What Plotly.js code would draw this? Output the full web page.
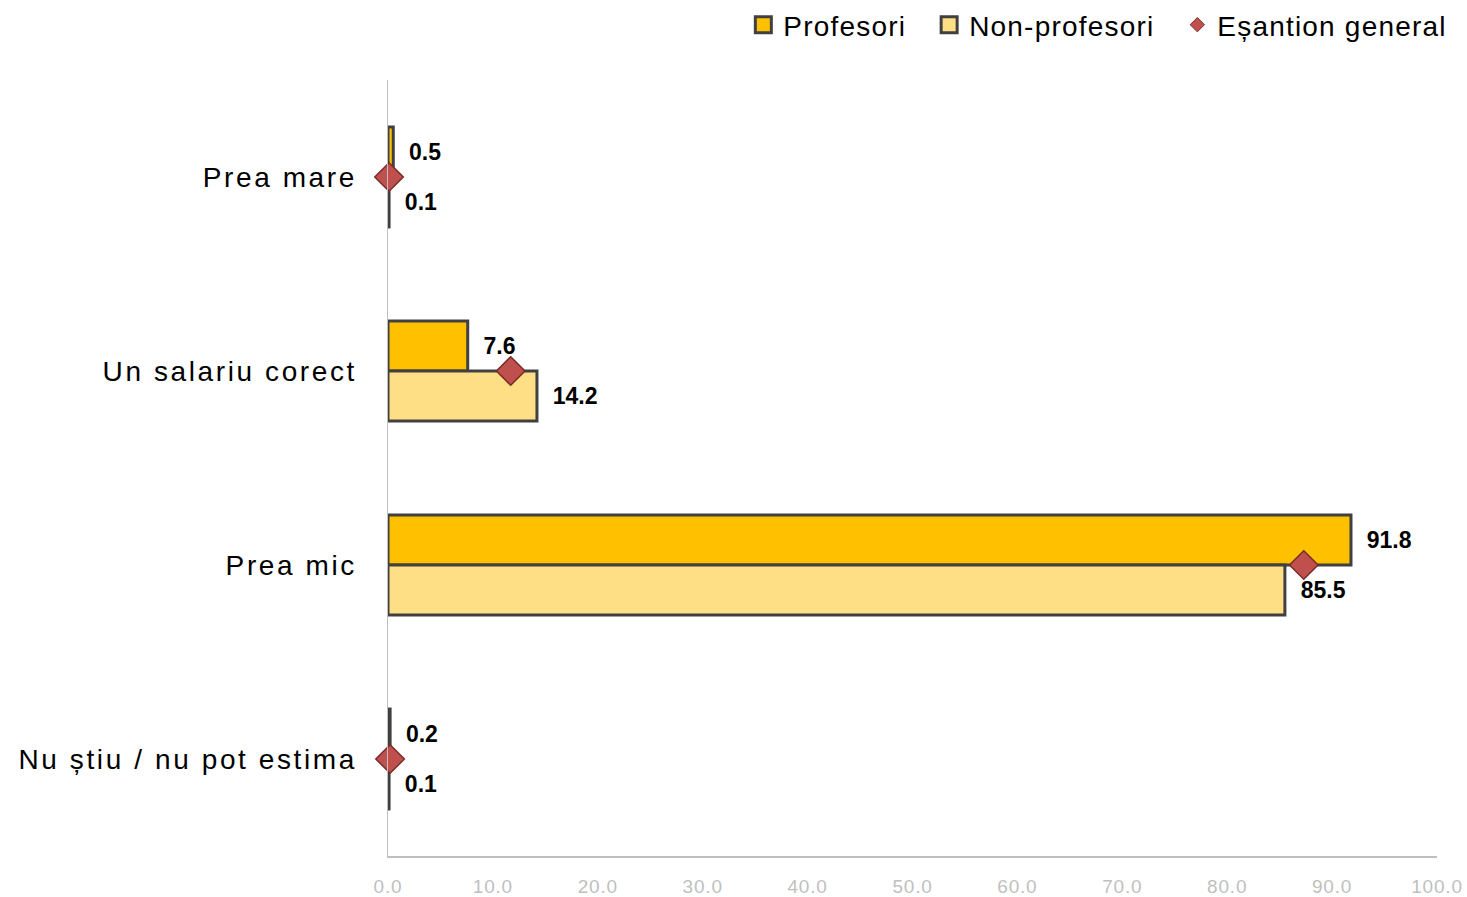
<!DOCTYPE html>
<html>
<head>
<meta charset="utf-8">
<script src="https://cdn.plot.ly/plotly-3.0.1.min.js"></script>
<style>
  html, body { margin: 0; padding: 0; background: #fff; }
  #chart { width: 1467px; height: 897px; }
  .ytick text { letter-spacing: 2.6px; }
  .xtick text { letter-spacing: 0.8px; }
  .legendtext { letter-spacing: 1.2px; }
</style>
</head>
<body>
<div id="chart"></div>
<script>
const categories = ["Prea mare", "Un salariu corect", "Prea mic", "Nu știu / nu pot estima"];
const seriesNames = ["Profesori", "Non-profesori", "Eșantion general"];
const profesori = [0.5, 7.6, 91.8, 0.2];
const nonProfesori = [0.1, 14.2, 85.5, 0.1];
const esantionGeneral = [0.1, 11.7, 87.3, 0.2];
const xTickVals = [0, 10, 20, 30, 40, 50, 60, 70, 80, 90, 100];

const pad = "\u00A0\u00A0";
const gap = "\u00A0\u00A0";
const FONT = "Liberation Sans, Arial, sans-serif";
const labelFont = { family: FONT, size: 23, color: "#000", weight: 700 };
const colProf = "#FFC000", colNon = "#FFDF85", colEs = "#C0504D";

const traces = [
  {
    type: "bar", orientation: "h", name: seriesNames[0], showlegend: false,
    y: categories, x: profesori,
    marker: { color: colProf, line: { color: "#404040", width: 3 } },
    text: profesori.map(v => pad + v.toFixed(1)),
    textposition: "outside", textfont: labelFont,
    constraintext: "none", cliponaxis: false, hoverinfo: "x+name"
  },
  {
    type: "bar", orientation: "h", name: seriesNames[1], showlegend: false,
    y: categories, x: nonProfesori,
    marker: { color: colNon, line: { color: "#404040", width: 3 } },
    text: nonProfesori.map(v => pad + v.toFixed(1)),
    textposition: "outside", textfont: labelFont,
    constraintext: "none", cliponaxis: false, hoverinfo: "x+name"
  },
  {
    type: "scatter", mode: "markers", name: seriesNames[2], showlegend: false,
    y: categories, x: esantionGeneral,
    marker: { symbol: "diamond", size: 22, color: colEs, line: { color: "#772C2A", width: 1.5 } },
    cliponaxis: false, hoverinfo: "x+name"
  },
  // legend entries
  {
    type: "scatter", mode: "markers", name: seriesNames[0] + gap, x: [null], y: [null],
    marker: { symbol: "square", size: 16, color: colProf, line: { color: "#404040", width: 3 } }
  },
  {
    type: "scatter", mode: "markers", name: seriesNames[1] + gap, x: [null], y: [null],
    marker: { symbol: "square", size: 16, color: colNon, line: { color: "#404040", width: 3 } }
  },
  {
    type: "scatter", mode: "markers", name: seriesNames[2], x: [null], y: [null],
    marker: { symbol: "diamond", size: 11, color: colEs, line: { color: "#772C2A", width: 1 } }
  }
];

const layout = {
  width: 1467, height: 897,
  margin: { l: 388, r: 30, t: 80, b: 41 },
  paper_bgcolor: "#fff", plot_bgcolor: "#fff",
  font: { family: FONT, color: "#000" },
  barmode: "group", bargap: 0.485, bargroupgap: 0,
  showlegend: true,
  legend: {
    orientation: "h", x: 0.99, xanchor: "right", xref: "container",
    y: 1, yanchor: "top", yref: "container",
    font: { size: 28, color: "#000" },
    itemsizing: "trace", traceorder: "normal",
    bgcolor: "rgba(0,0,0,0)"
  },
  xaxis: {
    range: [0, 100], tickvals: xTickVals, tickformat: ".1f",
    showgrid: false, zeroline: false,
    showline: true, linecolor: "#BFBFBF", linewidth: 1.5,
    ticks: "", ticklabelstandoff: 13,
    tickfont: { size: 19, color: "#BFBFBF", family: FONT },
    fixedrange: true
  },
  yaxis: {
    type: "category", categoryorder: "array", categoryarray: categories,
    autorange: "reversed",
    showgrid: false, zeroline: false,
    showline: true, linecolor: "#BFBFBF", linewidth: 1.5,
    ticks: "", ticklabelstandoff: 24,
    tickfont: { size: 28, color: "#000", family: FONT },
    fixedrange: true
  }
};

Plotly.newPlot("chart", traces, layout, { displayModeBar: false, staticPlot: true });
</script>
</body>
</html>
